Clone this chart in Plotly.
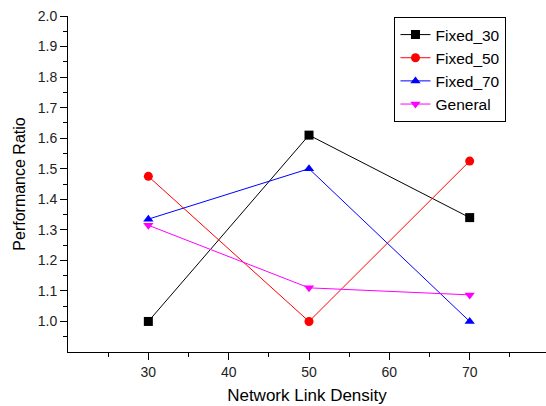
import plotly.graph_objects as go

x_density = [30, 50, 70]
fixed_30 = [1.00, 1.61, 1.34]
fixed_50 = [1.475, 1.00, 1.525]
fixed_70 = [1.335, 1.50, 1.00]
general = [1.315, 1.11, 1.087]

series = [
    ("Fixed_30", fixed_30, "black", "square"),
    ("Fixed_50", fixed_50, "red", "circle"),
    ("Fixed_70", fixed_70, "blue", "triangle-up"),
    ("General", general, "magenta", "triangle-down"),
]

fig = go.Figure()
for name, vals, color, sym in series:
    fig.add_trace(go.Scatter(
        x=x_density, y=vals, name=name, mode="lines+markers",
        line=dict(color=color, width=1),
        marker=dict(symbol=sym, size=9, color=color),
    ))

axis_common = dict(
    showgrid=False, zeroline=False, showline=True, linecolor="black", linewidth=1,
    ticks="outside", ticklen=7, tickcolor="black", tickwidth=1,
    tickfont=dict(family="Arial", size=14, color="#222"),
    automargin=False,
)

fig.update_layout(
    width=546, height=406,
    margin=dict(l=68, r=0, t=16, b=54),
    paper_bgcolor="white", plot_bgcolor="white",
    font=dict(family="Arial", color="black"),
    xaxis=dict(range=[20, 79.5], tickvals=[30, 40, 50, 60, 70],
               minor=dict(tickvals=[25, 35, 45, 55, 65, 75], ticklen=4, tickcolor="black", ticks="outside"),
               title=dict(text="Network Link Density", standoff=10,
                          font=dict(family="Arial", size=17, color="black")),
               **axis_common),
    yaxis=dict(range=[0.9, 2.0], tickvals=[1.0, 1.1, 1.2, 1.3, 1.4, 1.5, 1.6, 1.7, 1.8, 1.9, 2.0],
               tickformat=".1f",
               minor=dict(tickvals=[0.95, 1.05, 1.15, 1.25, 1.35, 1.45, 1.55, 1.65, 1.75, 1.85, 1.95],
                          ticklen=4, tickcolor="black", ticks="outside"),
               title=dict(text="Performance Ratio", standoff=8,
                          font=dict(family="Arial", size=16, color="black")),
               **axis_common),
    legend=dict(x=0.683, y=0.997, xanchor="left", yanchor="top",
                bordercolor="black", borderwidth=1, bgcolor="white",
                font=dict(family="Arial", size=15.5, color="black"),
                tracegroupgap=0, itemwidth=30),
    showlegend=True,
)

fig.write_html("out.html", config={"displayModeBar": False},
               post_script="document.body.style.margin='0';document.body.style.overflow='hidden';")
